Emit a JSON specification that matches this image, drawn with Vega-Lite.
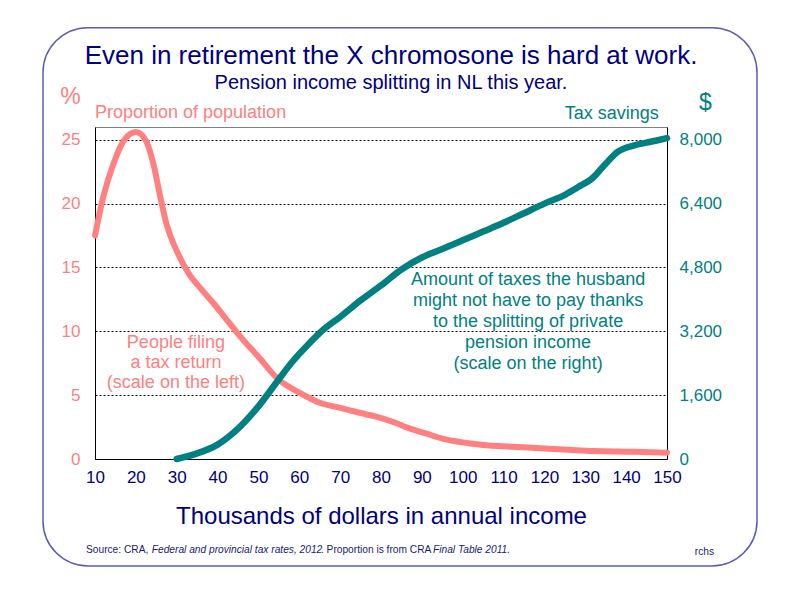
{
  "$schema": "https://vega.github.io/schema/vega-lite/v6.json",
  "width": 572,
  "height": 332,
  "autosize": {"type": "none"},
  "padding": {"left": 95, "top": 127, "right": 133, "bottom": 141},
  "background": "white",
  "title": {
    "text": "Even in retirement the X chromosone is hard at work.",
    "subtitle": "Pension income splitting in NL this year.",
    "anchor": "middle",
    "frame": "group",
    "offset": -66,
    "dx": 10,
    "fontSize": 26,
    "fontWeight": "normal",
    "color": "#000080",
    "subtitleFontSize": 20,
    "subtitleColor": "#000080",
    "subtitlePadding": 4
  },
  "datasets": {
    "proportion": [
      {"income": 10, "percent": 17.5},
      {"income": 12, "percent": 20.5},
      {"income": 14.5, "percent": 23.1},
      {"income": 17, "percent": 24.9},
      {"income": 20, "percent": 25.6},
      {"income": 22.5, "percent": 24.9},
      {"income": 24.3, "percent": 23.1},
      {"income": 26, "percent": 20.5},
      {"income": 27.5, "percent": 18.4},
      {"income": 30, "percent": 16.3},
      {"income": 33, "percent": 14.5},
      {"income": 36, "percent": 13.3},
      {"income": 39, "percent": 12.2},
      {"income": 42, "percent": 11.0},
      {"income": 45, "percent": 9.8},
      {"income": 50, "percent": 8.0},
      {"income": 55, "percent": 6.2},
      {"income": 60, "percent": 5.2},
      {"income": 65, "percent": 4.4},
      {"income": 70, "percent": 4.0},
      {"income": 75, "percent": 3.6},
      {"income": 79, "percent": 3.3},
      {"income": 83, "percent": 2.9},
      {"income": 87, "percent": 2.4},
      {"income": 91, "percent": 2.0},
      {"income": 95, "percent": 1.6},
      {"income": 100, "percent": 1.3},
      {"income": 105, "percent": 1.1},
      {"income": 112, "percent": 0.96},
      {"income": 120, "percent": 0.83},
      {"income": 126, "percent": 0.72},
      {"income": 132, "percent": 0.62},
      {"income": 142, "percent": 0.57},
      {"income": 150, "percent": 0.49}
    ],
    "savings": [
      {"income": 30, "savings": 0},
      {"income": 35, "savings": 140},
      {"income": 40, "savings": 360},
      {"income": 45, "savings": 760},
      {"income": 50, "savings": 1320},
      {"income": 55, "savings": 2000},
      {"income": 58, "savings": 2400},
      {"income": 62, "savings": 2850},
      {"income": 66, "savings": 3250},
      {"income": 70, "savings": 3560},
      {"income": 75, "savings": 3975},
      {"income": 80, "savings": 4350},
      {"income": 85, "savings": 4750},
      {"income": 90, "savings": 5050},
      {"income": 95, "savings": 5260},
      {"income": 100, "savings": 5480},
      {"income": 105, "savings": 5700},
      {"income": 110, "savings": 5920},
      {"income": 115, "savings": 6160},
      {"income": 120, "savings": 6400},
      {"income": 125, "savings": 6620},
      {"income": 128, "savings": 6800},
      {"income": 132, "savings": 7060},
      {"income": 135, "savings": 7400},
      {"income": 138, "savings": 7700},
      {"income": 142, "savings": 7860},
      {"income": 146, "savings": 7950},
      {"income": 150, "savings": 8040}
    ]
  },
  "layer": [
    {
      "layer": [
        {
          "data": {"values": [{}]},
          "mark": {"type": "rect", "filled": false, "stroke": "#5b5bb5", "strokeWidth": 1.5, "cornerRadius": 45},
          "encoding": {
            "x": {"datum": -2.73, "type": "quantitative"},
            "x2": {"datum": 172.03},
            "y": {"datum": 33.78, "type": "quantitative"},
            "y2": {"datum": -8.38}
          }
        },
        {
          "data": {"name": "proportion"},
          "mark": {"type": "line", "color": "#ff8080", "strokeWidth": 6, "strokeCap": "round", "interpolate": "monotone"},
          "encoding": {
            "x": {
              "field": "income",
              "type": "quantitative",
              "scale": {"domain": [10, 150], "nice": false, "zero": false},
              "axis": {
                "values": [10, 20, 30, 40, 50, 60, 70, 80, 90, 100, 110, 120, 130, 140, 150],
                "labelColor": "#000080",
                "labelFontSize": 17,
                "labelPadding": 10,
                "labelFlush": false,
                "labelOverlap": false,
                "titleColor": "#000080",
                "titleFontSize": 24,
                "titleFontWeight": "normal",
                "titlePadding": 19
              },
              "title": "Thousands of dollars in annual income"
            },
            "y": {
              "field": "percent",
              "type": "quantitative",
              "scale": {"domain": [0, 26], "nice": false},
              "axis": {
                "values": [0, 5, 10, 15, 20, 25],
                "grid": true,
                "gridColor": "#000000",
                "gridDash": [2, 2],
                "gridWidth": 1,
                "labelColor": "#ff8080",
                "labelFontSize": 17,
                "labelPadding": 15,
                "titleColor": "#ff8080",
                "titleFontSize": 23,
                "titleFontWeight": "normal",
                "titleAngle": 0,
                "titleAlign": "center",
                "titleBaseline": "alphabetic",
                "titleX": -25,
                "titleY": -24
              },
              "title": "%"
            }
          }
        },
        {
          "data": {"values": [{}]},
          "mark": {"type": "text", "text": "Proportion of population", "align": "left", "baseline": "alphabetic", "fontSize": 18, "color": "#ff8080"},
          "encoding": {
            "x": {"datum": 10, "type": "quantitative"},
            "y": {"datum": 26.7, "type": "quantitative"}
          }
        },
        {
          "data": {"values": [{}]},
          "mark": {"type": "text", "text": "Tax savings", "align": "right", "baseline": "alphabetic", "fontSize": 18, "color": "#008080"},
          "encoding": {
            "x": {"datum": 148, "type": "quantitative"},
            "y": {"datum": 26.63, "type": "quantitative"}
          }
        },
        {
          "data": {"values": [{}]},
          "mark": {"type": "text", "text": ["People filing", "a tax return", "(scale on the left)"], "align": "center", "baseline": "alphabetic", "fontSize": 18, "lineHeight": 20, "color": "#ff8080"},
          "encoding": {
            "x": {"datum": 29.8, "type": "quantitative"},
            "y": {"datum": 8.67, "type": "quantitative"}
          }
        },
        {
          "data": {"values": [{}]},
          "mark": {"type": "text", "text": "Source: CRA,", "align": "left", "baseline": "alphabetic", "fontSize": 10.2, "color": "#1a1a6e"},
          "encoding": {
            "x": {"datum": 7.8, "type": "quantitative"},
            "y": {"datum": -7.36, "type": "quantitative"}
          }
        },
        {
          "data": {"values": [{}]},
          "mark": {"type": "text", "text": "Federal and provincial tax rates, 2012", "align": "left", "baseline": "alphabetic", "fontSize": 10.2, "fontStyle": "italic", "color": "#1a1a6e"},
          "encoding": {
            "x": {"datum": 23.9, "type": "quantitative"},
            "y": {"datum": -7.36, "type": "quantitative"}
          }
        },
        {
          "data": {"values": [{}]},
          "mark": {"type": "text", "text": ". Proportion is from CRA", "align": "left", "baseline": "alphabetic", "fontSize": 10.2, "color": "#1a1a6e"},
          "encoding": {
            "x": {"datum": 65.3, "type": "quantitative"},
            "y": {"datum": -7.36, "type": "quantitative"}
          }
        },
        {
          "data": {"values": [{}]},
          "mark": {"type": "text", "text": "Final Table 2011.", "align": "left", "baseline": "alphabetic", "fontSize": 10.2, "fontStyle": "italic", "color": "#1a1a6e"},
          "encoding": {
            "x": {"datum": 92.73, "type": "quantitative"},
            "y": {"datum": -7.36, "type": "quantitative"}
          }
        },
        {
          "data": {"values": [{}]},
          "mark": {"type": "text", "text": "rchs", "align": "right", "baseline": "alphabetic", "fontSize": 10.2, "color": "#1a1a6e"},
          "encoding": {
            "x": {"datum": 161.5, "type": "quantitative"},
            "y": {"datum": -7.5, "type": "quantitative"}
          }
        }
      ]
    },
    {
      "layer": [
        {
          "data": {"name": "savings"},
          "mark": {"type": "line", "color": "#008080", "strokeWidth": 6.5, "strokeCap": "round", "interpolate": "monotone"},
          "encoding": {
            "x": {"field": "income", "type": "quantitative", "title": "Thousands of dollars in annual income"},
            "y": {
              "field": "savings",
              "type": "quantitative",
              "scale": {"domain": [0, 8320], "nice": false},
              "axis": {
                "orient": "right",
                "values": [0, 1600, 3200, 4800, 6400, 8000],
                "format": ",.0f",
                "grid": false,
                "labelColor": "#008080",
                "labelFontSize": 17,
                "labelPadding": 12,
                "titleColor": "#008080",
                "titleFontSize": 23,
                "titleFontWeight": "normal",
                "titleAngle": 0,
                "titleAlign": "center",
                "titleBaseline": "alphabetic",
                "titleX": 38,
                "titleY": -18
              },
              "title": "$"
            }
          }
        },
        {
          "data": {"values": [{}]},
          "mark": {"type": "text", "text": ["Amount of taxes the husband", "might not have to pay thanks", "to the splitting of private", "pension income", "(scale on the right)"], "align": "center", "baseline": "alphabetic", "fontSize": 18, "lineHeight": 21, "color": "#008080"},
          "encoding": {
            "x": {"datum": 116, "type": "quantitative"},
            "y": {"datum": 4367, "type": "quantitative"}
          }
        }
      ]
    }
  ],
  "resolve": {"scale": {"y": "independent"}},
  "config": {
    "font": "Liberation Sans",
    "view": {"stroke": "#808080", "strokeWidth": 1},
    "axis": {"ticks": false, "domainColor": "#000000", "domainWidth": 1}
  }
}
